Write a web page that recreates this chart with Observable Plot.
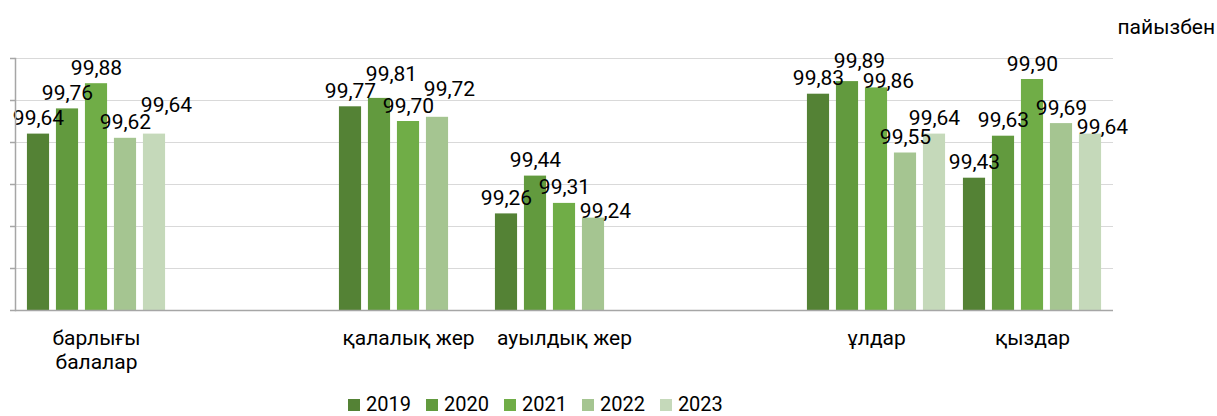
<!DOCTYPE html>
<html>
<head>
<meta charset="utf-8">
<script src="https://cdn.jsdelivr.net/npm/d3@7"></script>
<script src="https://cdn.jsdelivr.net/npm/@observablehq/plot@0.6"></script>
<style>
  html, body { margin: 0; padding: 0; background: #fff; }
  body { font-family: Roboto, "Noto Sans", sans-serif; color: #000; }
  #wrap { position: relative; width: 1217px; height: 416px; overflow: hidden; }
  #unit { position: absolute; top: 17px; right: 2px; font-size: 21px; line-height: 1; }
  #legend { position: absolute; top: 395px; left: 348px; font-size: 20px; line-height: 18px; white-space: nowrap; }
  #legend .item { display: inline-block; margin-right: 15px; }
  #legend .sw { display: inline-block; width: 12px; height: 12px; margin-right: 6px; vertical-align: baseline; }
  #chart svg { overflow: visible; }
</style>
</head>
<body>
<div id="wrap">
  <div id="chart"></div>
  <div id="unit"></div>
  <div id="legend"></div>
</div>
<script>
// ---- data ----
const categories = ["барлығы\nбалалар", "", "қалалық жер", "ауылдық жер", "", "ұлдар", "қыздар"];
const years = ["2019", "2020", "2021", "2022", "2023"];
const v2019 = [99.64, null, 99.77, 99.26, null, 99.83, 99.43];
const v2020 = [99.76, null, 99.81, 99.44, null, 99.89, 99.63];
const v2021 = [99.88, null, 99.70, 99.31, null, 99.86, 99.90];
const v2022 = [99.62, null, 99.72, 99.24, null, 99.55, 99.69];
const v2023 = [99.64, null, null, null, null, 99.64, 99.64];
const yTicks = [98.8, 99.0, 99.2, 99.4, 99.6, 99.8, 100.0];
const unitLabel = "пайызбен";

// ---- styling ----
const colors = ["#548235", "#629a3e", "#70ad47", "#a5c591", "#c5d9ba"];
const series = [v2019, v2020, v2021, v2022, v2023];

const rows = [];
series.forEach((vals, j) => vals.forEach((v, i) => {
  if (v != null) rows.push({i, j, year: years[j], value: v});
}));

const W = 1217, H = 416;
const mL = 15, mR = 104, mT = 58, mB = 106;
const band = (W - mL - mR) / categories.length;
const barW = 23, step = 29;
const inset = (band - barW) / 2;
const fmt = v => v.toFixed(2).replace(".", ",");

// label layout: simple collision avoidance between neighbouring labels (pixel offsets)
const pxPerUnit = (H - mT - mB) / (yTicks[yTicks.length - 1] - yTicks[0]);
const gap = 10, labelH = 17, nudge = 12;
const labelPlacement = [];
categories.forEach((c, i) => {
  const grp = rows.filter(r => r.i === i).sort((a, b) => a.j - b.j);
  let prev = null;
  grp.forEach(r => {
    const top = -r.value * pxPerUnit;
    let y = top - gap, dx = 0;
    if (prev && Math.abs(y - prev.y) < labelH) {
      dx = nudge;
      const down = top - 1;
      if (down - prev.y >= labelH) y = down;
      else y = Math.min(y, prev.y - labelH);
    }
    labelPlacement.push({row: r, dx: (r.j - 2) * step + dx, dy: y - top});
    prev = {y};
  });
});

const marks = [
  Plot.ruleY(yTicks.slice(1), {stroke: "#d9d9d9", strokeWidth: 1}),
];
years.forEach((yr, j) => {
  const d = rows.filter(r => r.j === j);
  marks.push(Plot.barY(d, {
    x: "i", y1: yTicks[0], y2: "value", fill: colors[j],
    insetLeft: inset, insetRight: inset, dx: (j - 2) * step
  }));
});
labelPlacement.forEach(p => {
  marks.push(Plot.text([p.row], {
    x: "i", y: "value", text: r => fmt(r.value), dx: p.dx, dy: p.dy + 1,
    fontSize: 21, lineAnchor: "bottom", fill: "#000"
  }));
});
marks.push(
  Plot.ruleY([yTicks[0]], {stroke: "#a6a6a6", strokeWidth: 1.5}),
  Plot.frame({anchor: "left", stroke: "#a6a6a6", strokeWidth: 1.5}),
  Plot.axisY({ticks: yTicks, tickFormat: () => "", tickSize: 5, stroke: "#a6a6a6", strokeWidth: 1.5, label: null}),
  Plot.axisX({tickSize: 0, tickPadding: 17, fontSize: 21, lineHeight: 1.15,
    tickFormat: i => categories[i], fill: "#000", label: null})
);

const chart = Plot.plot({
  width: W, height: H,
  marginLeft: mL, marginRight: mR, marginTop: mT, marginBottom: mB,
  style: {fontFamily: "Roboto, 'Noto Sans', sans-serif", background: "transparent", color: "#000"},
  x: {type: "band", domain: d3.range(categories.length), padding: 0, label: null},
  y: {domain: [yTicks[0], yTicks[yTicks.length - 1]], label: null},
  marks
});
document.getElementById("chart").appendChild(chart);

document.getElementById("unit").textContent = unitLabel;
const leg = document.getElementById("legend");
years.forEach((yr, j) => {
  const it = document.createElement("span");
  it.className = "item";
  const sw = document.createElement("span");
  sw.className = "sw";
  sw.style.background = colors[j];
  it.appendChild(sw);
  it.appendChild(document.createTextNode(yr));
  leg.appendChild(it);
});
</script>
</body>
</html>
